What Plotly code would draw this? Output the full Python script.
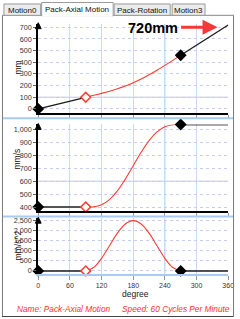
import plotly.graph_objects as go

W, H = 240, 319

# ---------------- data ----------------
degree_ticks = [0, 60, 120, 180, 240, 300, 360]
deg_dwell_a = [0, 90]
deg_dwell_b = [270, 360]
deg_curve = [90, 105, 120, 135, 150, 165, 180, 195, 210, 225, 240, 255, 270]
key_deg = [0, 90, 270]

pos_dwell_a = [0, 100]
pos_dwell_b = [460, 720]
pos_curve = [100, 116.7, 133.7, 151.9, 172.3, 196.0, 223.8, 256.0, 292.3, 331.9, 373.7, 416.7, 460]
pos_keys = [0, 100, 460]

vel_dwell_a = [400, 400]
vel_dwell_b = [1040, 1040]
vel_curve = [400, 402, 418, 458, 525, 616, 720, 824, 915, 982, 1022, 1038, 1040]
vel_keys = [400, 400, 1040]

acc_dwell_a = [0, 0]
acc_dwell_b = [0, 0]
acc_curve = [0, 166, 620, 1240, 1860, 2314, 2480, 2314, 1860, 1240, 620, 166, 0]
acc_keys = [0, 0, 0]

tab_labels = ["Motion0", "Pack-Axial Motion", "Pack-Rotation", "Motion3"]
panel_titles = ["mm", "mm/s", "mm/s^2"]
footer_name = "Name: Pack-Axial Motion"
footer_speed = "Speed: 60 Cycles Per Minute"
big_label = "720mm"
x_title = "degree"


def px(x):
    return x / W


def py(y):
    return 1 - y / H


FONT = "Liberation Sans, Arial, sans-serif"
RED = "#ff3b30"

fig = go.Figure()

panels = [
    (pos_dwell_a, pos_dwell_b, pos_curve, pos_keys, "#1a1a1a", 1.3),
    (vel_dwell_a, vel_dwell_b, vel_curve, vel_keys, "#555555", 2),
    (acc_dwell_a, acc_dwell_b, acc_curve, acc_keys, "#1a1a1a", 1.5),
]
for i, (da, db, cv, keys, dcol, dw) in enumerate(panels):
    xa = "x" if i == 0 else f"x{i+1}"
    ya = "y" if i == 0 else f"y{i+1}"
    fig.add_trace(go.Scatter(x=deg_dwell_a, y=da, mode="lines", xaxis=xa, yaxis=ya,
                             line=dict(color=dcol, width=dw), cliponaxis=False))
    fig.add_trace(go.Scatter(x=deg_dwell_b, y=db, mode="lines", xaxis=xa, yaxis=ya,
                             line=dict(color=dcol, width=dw), cliponaxis=False))
    fig.add_trace(go.Scatter(x=deg_curve, y=cv, mode="lines", xaxis=xa, yaxis=ya,
                             line=dict(color=RED, width=1.1, shape="spline"), cliponaxis=False))
    fig.add_trace(go.Scatter(x=key_deg, y=keys, mode="markers", xaxis=xa, yaxis=ya,
                             marker=dict(symbol="diamond", size=7.5,
                                         color=["#000000", "#ffffff", "#000000"],
                                         line=dict(color=["#000000", RED, "#000000"], width=1.5)),
                             cliponaxis=False))

# ---------------- axes ----------------
xdom = [px(37.5), px(234)]
ydoms = [[py(112.3), py(22)], [py(211.7), py(124)], [py(275), py(219)]]
yranges = [[-34, 731], [369, 1040], [-131.6, 2597.5]]
ydticks = [100, 100, 500]

layout = dict(
    width=W, height=H, margin=dict(l=0, r=0, t=0, b=0),
    paper_bgcolor="white", plot_bgcolor="white", showlegend=False,
    font=dict(family=FONT, size=8, color="#222"),
)
for i in range(3):
    xk = "xaxis" if i == 0 else f"xaxis{i+1}"
    yk = "yaxis" if i == 0 else f"yaxis{i+1}"
    ya = "y" if i == 0 else f"y{i+1}"
    xa = "x" if i == 0 else f"x{i+1}"
    last = i == 2
    layout[xk] = dict(
        domain=xdom, range=[0, 360], anchor=ya, tickvals=degree_ticks,
        showticklabels=last, ticks="outside", ticklen=4 if last else 3,
        tickcolor="#8899aa", showline=True,
        linecolor="#a8ccf0" if last else "#000000", linewidth=2,
        showgrid=True, gridcolor="#c4dcf6", gridwidth=1, zeroline=False,
        tickfont=dict(size=7, color="#333", family=FONT),
    )
    layout[yk] = dict(
        domain=ydoms[i], range=yranges[i], anchor=xa, tick0=0, dtick=ydticks[i],
        tickformat=",", ticks="outside", ticklen=3, tickcolor="#666",
        showline=True, linecolor="#000000", linewidth=2,
        showgrid=True, gridcolor="#c6ccf4", griddash="dot", gridwidth=1, zeroline=False,
        tickfont=dict(size=7.2, color="#333", family=FONT),
    )
fig.update_layout(**layout)

shapes = []
# subtle gray grid lines
for xa, ya, yv in [("x", "y", 100), ("x2", "y2", 600)]:
    shapes.append(dict(type="line", xref=xa, yref=ya, x0=0, x1=360, y0=yv, y1=yv,
                       line=dict(color="#dcdcdc", width=1.5), layer="below"))
for xa, ya, (y0, y1) in [("x", "y", (-34, 731)), ("x2", "y2", (369, 1040)), ("x3", "y3", (-131.6, 2597.5))]:
    shapes.append(dict(type="line", xref=xa, yref=ya, x0=240, x1=240, y0=y0, y1=y1,
                       line=dict(color="#dcdcdc", width=1.5), layer="below"))

# panel separators
for yy in [117.7, 217.3]:
    shapes.append(dict(type="line", xref="paper", yref="paper", x0=px(1), x1=px(239),
                       y0=py(yy), y1=py(yy), line=dict(color="#a8ccf0", width=2)))

# y-axis arrow heads
for top in [21, 123, 218]:
    shapes.append(dict(type="path", xref="paper", yref="paper",
                       path=f"M {px(37.5)},{py(top)} L {px(34.5)},{py(top+6)} L {px(40.5)},{py(top+6)} Z",
                       fillcolor="#000", line=dict(color="#000", width=1)))

# window frame
shapes.append(dict(type="line", xref="paper", yref="paper", x0=px(0.5), x1=px(0.5),
                   y0=py(13.5), y1=py(319), line=dict(color="#7a7a7a", width=1)))
shapes.append(dict(type="line", xref="paper", yref="paper", x0=px(0), x1=px(240),
                   y0=py(318.5), y1=py(318.5), line=dict(color="#444", width=1)))
shapes.append(dict(type="line", xref="paper", yref="paper", x0=px(239.5), x1=px(239.5),
                   y0=py(13.5), y1=py(319), line=dict(color="#7a7a7a", width=1)))

# tabs
shapes.append(dict(type="line", xref="paper", yref="paper", x0=px(0), x1=px(240),
                   y0=py(13.5), y1=py(13.5), line=dict(color="#8a8a8a", width=1)))
tab_boxes = [(2, 40, 2), (41, 115, 0), (116, 174, 2), (176, 210, 2)]
for j, (a, b, t) in enumerate(tab_boxes):
    if j == 1:
        continue
    shapes.append(dict(type="rect", xref="paper", yref="paper", x0=px(a), x1=px(b),
                       y0=py(13.5), y1=py(t), fillcolor="#ececec",
                       line=dict(color="#9a9a9a", width=1)))
a, b, t = tab_boxes[1]
shapes.append(dict(type="rect", xref="paper", yref="paper", x0=px(a), x1=px(b),
                   y0=py(14), y1=py(t + 0.5), fillcolor="#ffffff",
                   line=dict(color="#9a9a9a", width=1)))
shapes.append(dict(type="line", xref="paper", yref="paper", x0=px(a + 0.7), x1=px(b - 0.7),
                   y0=py(14), y1=py(14), line=dict(color="#ffffff", width=2)))

fig.update_layout(shapes=shapes)


def label(text, x, y, size, color="#111", xanchor="center", angle=0):
    return dict(text=text, x=px(x), y=py(y), xref="paper", yref="paper",
                xanchor=xanchor, yanchor="middle", textangle=angle,
                showarrow=False, font=dict(size=size, color=color, family=FONT))


ann = []
tab_centers = [(21, 8.3), (78, 7.3), (145, 8.3), (193, 8.3)]
for lbl, (cx, cy) in zip(tab_labels, tab_centers):
    ann.append(label(lbl, cx, cy, 8))

# axis titles
for t, (cx, cy) in zip(panel_titles, [(17, 66), (16, 159), (16, 246)]):
    ann.append(label(t, cx, cy, 8.5, angle=-90))

ann.append(label(x_title, 138, 296, 8.5, color="#222"))
ann.append(label(f"<b>{big_label}</b>", 156, 26, 14.5, color="#000"))
ann.append(dict(text="", x=px(223), y=py(25.5), xref="paper", yref="paper",
                showarrow=True, ax=-38, ay=0, arrowhead=2, arrowsize=1, arrowwidth=3,
                arrowcolor="#f03a3a"))

ann.append(label(f"<i>{footer_name}</i>", 13, 311, 8.3, color="#ff3030", xanchor="left"))
ann.append(label(f"<i>{footer_speed}</i>", 238, 311, 8.3, color="#ff3030", xanchor="right"))

fig.update_layout(annotations=ann)

fig.write_html("out.html")
